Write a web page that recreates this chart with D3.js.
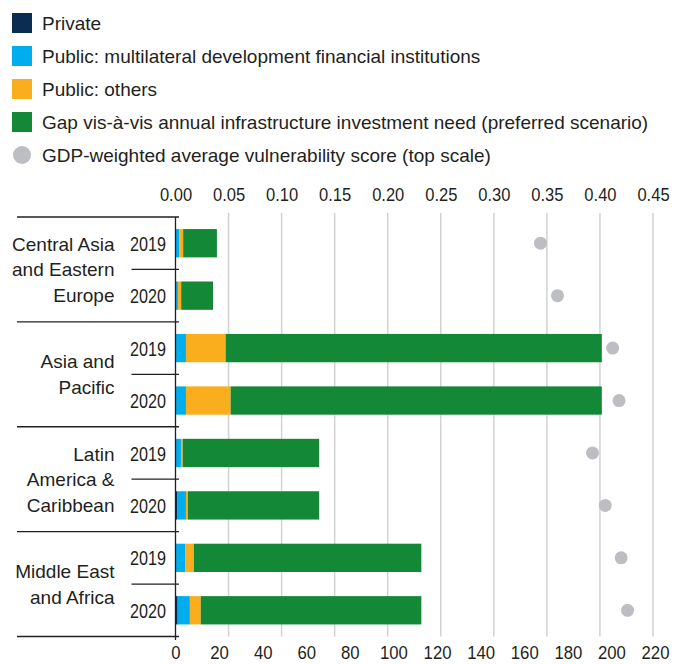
<!DOCTYPE html>
<html>
<head>
<meta charset="utf-8">
<script src="https://cdn.jsdelivr.net/npm/d3@7"></script>
<style>
  body { margin: 0; background: #fff; }
  svg text { font-family: "Liberation Sans", Arial, sans-serif; fill: #231f20; }
</style>
</head>
<body>
<svg id="chart" width="674" height="664"></svg>
<script>
// chart data (USD bn, bottom scale) and vulnerability score (top scale)
var regionLines = [["Central Asia", "and Eastern", "Europe"], ["Asia and", "Pacific"], ["Latin", "America &", "Caribbean"], ["Middle East", "and Africa"]];
var years = ["2019", "2020"];
var privateVals = [0, 0, 0, 0, 0, 0.7, 0, 1.0];
var mdfiVals = [1.8, 1.1, 4.8, 4.8, 2.5, 4.1, 4.4, 5.6];
var otherVals = [1.7, 1.5, 18.2, 20.5, 0.8, 0.9, 4.0, 5.0];
var gapVals = [15.5, 14.6, 172.6, 170.3, 62.6, 60.2, 104.4, 101.2];
var vulnScores = [0.344, 0.360, 0.412, 0.418, 0.393, 0.405, 0.420, 0.426];
var topTicks = [0, 0.05, 0.10, 0.15, 0.20, 0.25, 0.30, 0.35, 0.40, 0.45];
var bottomTicks = [0, 20, 40, 60, 80, 100, 120, 140, 160, 180, 200, 220];
var legendLabels = ["Private", "Public: multilateral development financial institutions", "Public: others",
  "Gap vis-\u00e0-vis annual infrastructure investment need (preferred scenario)",
  "GDP-weighted average vulnerability score (top scale)"];

var keys = ["private", "mdfi", "others", "gap"];
var colors = { private: "#0c2d52", mdfi: "#00aeef", others: "#fbae1d", gap: "#138837" };
var dotColor = "#bdbec1";
var lineColor = "#231f20";

var svg = d3.select("#chart");

// the original uses a condensed face for numbers, so squeeze them a bit
var squeeze = function(sel, k) {
  sel.each(function() {
    var w = this.getComputedTextLength();
    d3.select(this).attr("textLength", w * k).attr("lengthAdjust", "spacingAndGlyphs");
  });
};

// one row per region/year
var rows = [];
regionLines.forEach(function(lines, r) {
  years.forEach(function(y, j) {
    var i = r * 2 + j;
    rows.push({ id: r + "-" + y, region: r, year: y, private: privateVals[i], mdfi: mdfiVals[i], others: otherVals[i], gap: gapVals[i], vuln: vulnScores[i] });
  });
});

var xBottom = d3.scaleLinear().domain([0, 220]).range([175.5, 655]);
var xTop = d3.scaleLinear().domain([0, 0.45]).range([175.5, 653]);
var y = d3.scaleBand().domain(rows.map(function(d) { return d.id; }))
  .range([217, 636.5]).paddingInner(0.46).paddingOuter(0.23);
var step = y.step();
var rowTop = function(d) { return y(d.id) - y.paddingOuter() * step; };

// legend
var legend = svg.append("g").attr("class", "legend");
legendLabels.forEach(function(label, i) {
  var cy = 23 + i * 33;
  if (i < 4) {
    legend.append("rect").attr("x", 12).attr("y", cy - 10).attr("width", 20).attr("height", 20)
      .attr("fill", colors[keys[i]]);
  } else {
    legend.append("circle").attr("cx", 22).attr("cy", cy).attr("r", 9).attr("fill", dotColor);
  }
  legend.append("text").attr("x", 42).attr("y", cy).attr("dy", "0.36em")
    .style("font-size", "19px").text(label);
});

// gridlines follow the top scale
svg.append("g").selectAll("line").data(topTicks.slice(1)).join("line")
  .attr("x1", function(d) { return xTop(d); }).attr("x2", function(d) { return xTop(d); })
  .attr("y1", 213).attr("y2", 636.5)
  .attr("stroke", "#d1d2d4").attr("stroke-width", 1.5);

// top axis
var topAxis = svg.append("g").attr("transform", "translate(0,210)")
  .call(d3.axisTop(xTop).tickValues(topTicks).tickFormat(d3.format(".2f")).tickSize(0).tickPadding(9));
topAxis.select(".domain").remove();
topAxis.selectAll("text").style("font-size", "19px").attr("fill", "#231f20").call(squeeze, 0.87);

// bottom axis
var bottomAxis = svg.append("g").attr("transform", "translate(0,640)")
  .call(d3.axisBottom(xBottom).tickValues(bottomTicks).tickSize(0));
bottomAxis.select(".domain").remove();
bottomAxis.selectAll("text").style("font-size", "19px").attr("fill", "#231f20")
  .attr("y", 19).attr("dy", 0).call(squeeze, 0.88);

// stacked bars
var series = d3.stack().keys(keys)(rows);
svg.append("g").selectAll("g").data(series).join("g")
  .attr("fill", function(s) { return colors[s.key]; })
  .selectAll("rect").data(function(s) { return s; }).join("rect")
  .attr("x", function(d) { return xBottom(d[0]); })
  .attr("width", function(d) { return xBottom(d[1]) - xBottom(d[0]); })
  .attr("y", function(d) { return y(d.data.id); })
  .attr("height", y.bandwidth());

// vulnerability dots
svg.append("g").selectAll("circle").data(rows).join("circle")
  .attr("cx", function(d) { return xTop(d.vuln); })
  .attr("cy", function(d) { return y(d.id) + y.bandwidth() / 2; })
  .attr("r", 6.5).attr("fill", dotColor);

// separators: long ones between regions, short ones between years
var seps = svg.append("g").attr("stroke", lineColor).attr("stroke-width", 1.3);
rows.forEach(function(d, i) {
  var yy = rowTop(d);
  seps.append("line").attr("x1", i % 2 === 0 ? 17 : 131.5).attr("x2", 179)
    .attr("y1", yy).attr("y2", yy);
});
var yEnd = rowTop(rows[rows.length - 1]) + step;
seps.append("line").attr("x1", 17).attr("x2", 179).attr("y1", yEnd).attr("y2", yEnd);
seps.append("line").attr("x1", 175.5).attr("x2", 175.5).attr("y1", 217).attr("y2", 640);

// year labels
svg.append("g").selectAll("text").data(rows).join("text")
  .attr("x", 166).attr("y", function(d) { return y(d.id) + y.bandwidth() / 2; })
  .attr("dy", "0.36em").attr("text-anchor", "end").style("font-size", "21px")
  .text(function(d) { return d.year; })
  .call(squeeze, 0.77);

// region labels, centered on each pair of rows
regionLines.forEach(function(lines, r) {
  var top = rowTop(rows[r * 2]);
  var mid = top + step;
  var lh = 25.5;
  var t = svg.append("text").attr("text-anchor", "end").style("font-size", "19px");
  lines.forEach(function(l, k) {
    t.append("tspan").attr("x", 114.5)
      .attr("y", mid + (k - (lines.length - 1) / 2) * lh)
      .attr("dy", "0.36em").text(l);
  });
});
</script>
</body>
</html>
